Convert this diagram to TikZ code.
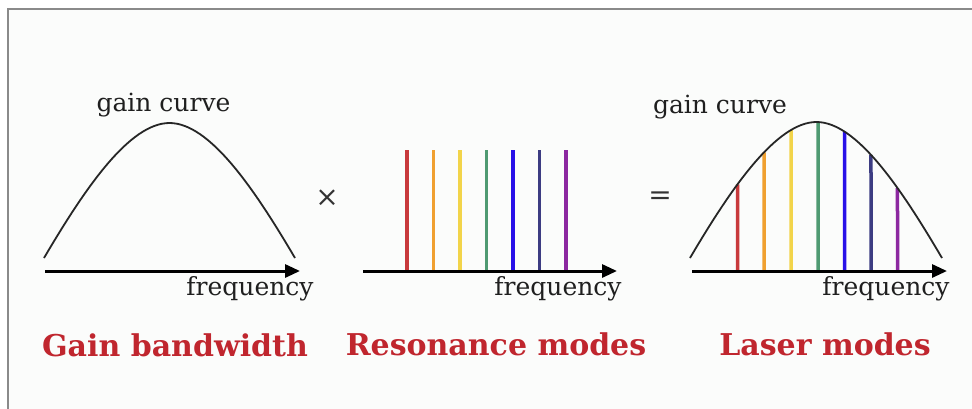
\documentclass[tikz,border=0pt]{standalone}
\usepackage{fontspec}
\setmainfont{DejaVu Serif}
\usetikzlibrary{arrows.meta,intersections}
\definecolor{framegray}{HTML}{8A8A8A}
\definecolor{bgc}{HTML}{FBFCFB}
\definecolor{labred}{HTML}{C0262E}
\definecolor{mred}{HTML}{C83A3C}
\definecolor{morange}{HTML}{F0A030}
\definecolor{myellow}{HTML}{F2D44A}
\definecolor{mgreen}{HTML}{4F9A72}
\definecolor{mblue}{HTML}{2810E8}
\definecolor{mindigo}{HTML}{3C3C82}
\definecolor{mviolet}{HTML}{8C28A0}
\tikzset{
  axisline/.style={line width=3pt, -{Triangle[length=15pt,width=13pt]}},
  gaincurve/.style={line width=1.8pt, black!85},
  modeline/.style={line width=3.5pt},
  smalltext/.style={font=\fontsize{25}{28}\selectfont, text=black!88, inner sep=0pt},
  labeltext/.style={font=\fontsize{30}{34}\selectfont\bfseries, text=labred, inner sep=0pt},
  optext/.style={font=\fontsize{28}{32}\selectfont, text=black!80, inner sep=0pt}
}
\begin{document}
\begin{tikzpicture}[x=1pt,y=-1pt]
\useasboundingbox (0,0) rectangle (972,408);
\clip (0,0) rectangle (972,408);
\fill[white] (0,0) rectangle (972,408);
\draw[framegray, line width=2.5pt, fill=bgc] (8,9) rectangle (990,430);

% Panel 1
\draw[gaincurve] (44,258) .. controls (84,190) and (129,123) .. (169.5,123)
  .. controls (210,123) and (255,190) .. (295,258);
\coordinate (a1s) at (45,271);
\coordinate (a1e) at (300,271);
\draw[axisline] (a1s) -- (a1e);
\node[smalltext, anchor=base] (g1) at (163.5,111) {gain curve};
\node[smalltext, anchor=base] (f1) at (250,295) {frequency};
\node[labeltext, anchor=base] (l1) at (175,356) {Gain bandwidth};

% operator
\node[optext] (times) at (327,198) {×};
\node[optext] (equals) at (660,198) {=};

% Panel 2
\foreach \xx/\cc in {407/mred,433.5/morange,460/myellow,486.5/mgreen,513/mblue,539.5/mindigo,566/mviolet}{
  \draw[modeline, \cc] (\xx,271) -- (\xx,150);
}
\coordinate (a2s) at (363,271);
\coordinate (a2e) at (617,271);
\draw[axisline] (a2s) -- (a2e);
\node[smalltext, anchor=base] (f2) at (558,295) {frequency};
\node[labeltext, anchor=base] (l2) at (496,355) {Resonance modes};

% Panel 3
\path[name path=c3] (690,258) .. controls (730,190) and (776,122) .. (816.5,122)
  .. controls (857,122) and (902,190) .. (942,258);
\foreach \xx/\cc [count=\i] in {737.5/mred,764/morange,791/myellow,818/mgreen,844.5/mblue,871/mindigo,897.5/mviolet}{
  \path[name path=v\i] (\xx,275) -- (\xx,100);
  \path[name intersections={of=c3 and v\i, by={t\i}}];
  \coordinate (b\i) at (\xx,271);
  \draw[modeline, \cc] (b\i) -- (t\i);
}
\draw[gaincurve] (690,258) .. controls (730,190) and (776,122) .. (816.5,122)
  .. controls (857,122) and (902,190) .. (942,258);
\coordinate (a3s) at (692,271);
\coordinate (a3e) at (947,271);
\draw[axisline] (a3s) -- (a3e);
\node[smalltext, anchor=base] (g3) at (720,113) {gain curve};
\node[smalltext, anchor=base] (f3) at (886,295) {frequency};
\node[labeltext, anchor=base] (l3) at (825,355) {Laser modes};
\end{tikzpicture}
\end{document}
